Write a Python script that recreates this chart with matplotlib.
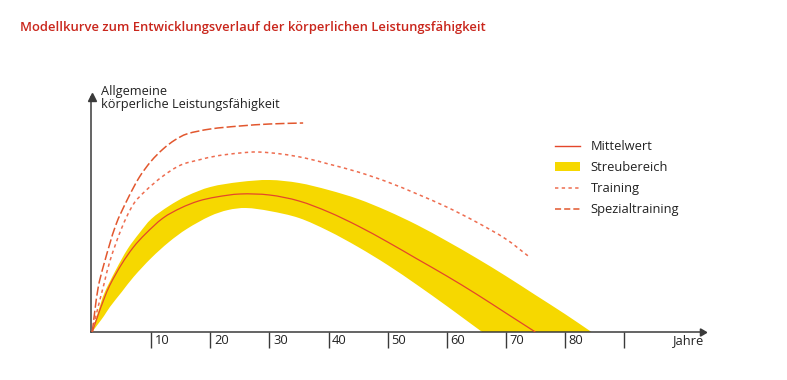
import numpy as np
import matplotlib
matplotlib.use("Agg")
import matplotlib.pyplot as plt
from matplotlib.lines import Line2D
from matplotlib.patches import Patch, PathPatch
from matplotlib.path import Path

plt.rcParams['font.family'] = ['Open Sans', 'DejaVu Sans']

# ---- data (age in years, performance in arbitrary units) ----
mean_age = [0, 1, 2, 3, 5, 7, 9, 12, 15, 18, 21, 25, 30, 35, 40, 45, 50, 55, 60, 65, 70, 75]
mean_val = [0, 17, 33, 47, 68, 85, 98, 114, 124, 131, 135, 138, 137, 131, 120, 106, 90, 73, 56, 38, 19, 0]

upper_age = [0, 1, 2, 4, 6, 8, 10, 13, 16, 20, 25, 30, 35, 40, 45, 50, 55, 60, 65, 70, 75, 80, 84.5]
upper_val = [0, 20, 38, 62, 83, 99, 113, 126, 136, 145, 150, 152, 149, 142, 133, 121, 107, 91, 74, 56, 37, 18, 0]

lower_age = [0, 1, 2, 3, 5, 7, 10, 13, 16, 20, 23, 26, 30, 35, 40, 45, 50, 55, 60, 63, 66]
lower_val = [0, 8, 16, 25, 40, 55, 74, 90, 103, 116, 122, 124, 121, 114, 101, 85, 67, 47, 26, 13, 0]

train_age = [0, 1, 2, 3, 5, 7, 9, 12, 15, 18, 21, 25, 28, 32, 36, 40, 45, 50, 55, 60, 65, 70, 74]
train_val = [0, 25, 48, 71, 104, 128, 141, 156, 167, 172, 176, 179, 180, 178, 174, 168, 160, 150, 138, 125, 110, 93, 75]

spez_age = [0, 1, 2, 4, 6, 8, 10, 12, 14, 16, 20, 25, 30, 35.7]
spez_val = [0, 44, 68, 107, 133, 155, 171, 183, 192, 198, 203, 206, 208, 209]

xticks = [10, 20, 30, 40, 50, 60, 70, 80, 90]
xtick_labels = ['10', '20', '30', '40', '50', '60', '70', '80', '']

title = "Modellkurve zum Entwicklungsverlauf der körperlichen Leistungsfähigkeit"
ylabel = "Allgemeine\nkörperliche Leistungsfähigkeit"
xlabel = "Jahre"
legend_labels = ["Mittelwert", "Streubereich", "Training", "Spezialtraining"]

# ---- styling ----
YELLOW = '#f6d800'
RED = '#e4472a'
TRAIN_C = '#ee6d50'
SPEZ_C = '#e2572e'
AXIS_C = '#3a3a3a'
TEXT_C = '#222222'
TITLE_C = '#c9261c'
SX = 5.91  # x-aspect used only for smooth tangent directions


def smooth_verts(xs, ys):
    """Bezier control polygon passing through the given points (smooth rendering)."""
    P = np.column_stack([np.asarray(xs, float) * SX, np.asarray(ys, float)])
    n = len(P)
    T = np.zeros_like(P)
    for i in range(n):
        a = P[max(i - 1, 0)]
        b = P[min(i + 1, n - 1)]
        d = b - a
        T[i] = d / np.hypot(*d)
    verts = [P[0]]
    for i in range(n - 1):
        L = np.hypot(*(P[i + 1] - P[i])) / 3.0
        verts += [P[i] + T[i] * L, P[i + 1] - T[i + 1] * L, P[i + 1]]
    V = np.array(verts)
    V[:, 0] /= SX
    return V


def curve_path(xs, ys):
    V = smooth_verts(xs, ys)
    codes = [Path.MOVETO] + [Path.CURVE4] * (len(V) - 1)
    return Path(V, codes)


W, H = 787, 380
fig = plt.figure(figsize=(W / 100, H / 100), dpi=100)
fig.patch.set_facecolor('white')

x0, x1, y0, y1 = 91, 702, 332, 97
ax = fig.add_axes([x0 / W, (H - y0) / H, (x1 - x0) / W, (y0 - y1) / H])
ax.set_xlim(-0.2, 103.2)
ax.set_ylim(0, 235)

# band: upper edge forward, lower edge backward
Vu = smooth_verts(upper_age, upper_val)
Vl = smooth_verts(lower_age, lower_val)[::-1]
band_verts = np.vstack([Vu, Vl, Vu[:1]])
band_codes = ([Path.MOVETO] + [Path.CURVE4] * (len(Vu) - 1) + [Path.LINETO]
              + [Path.CURVE4] * (len(Vl) - 1) + [Path.CLOSEPOLY])
ax.add_patch(PathPatch(Path(band_verts, band_codes), facecolor=YELLOW, edgecolor='none', zorder=1))

ax.add_patch(PathPatch(curve_path(mean_age, mean_val), facecolor='none', edgecolor=RED, lw=0.9, zorder=3))
ax.add_patch(PathPatch(curve_path(train_age, train_val), facecolor='none', edgecolor=TRAIN_C, lw=1.1,
                       ls=(0, (2.2, 2.2)), zorder=3))
ax.add_patch(PathPatch(curve_path(spez_age, spez_val), facecolor='none', edgecolor=SPEZ_C, lw=1.1,
                       ls=(0, (6, 2)), zorder=3))

# axes
for s in ['top', 'right']:
    ax.spines[s].set_visible(False)
for s in ['left', 'bottom']:
    ax.spines[s].set_color(AXIS_C)
    ax.spines[s].set_linewidth(1.1)
ax.set_yticks([])
ax.set_xticks(xticks)
ax.set_xticklabels([])
ax.tick_params(axis='x', direction='out', length=11.5, width=1.0, color=AXIS_C)

ax.plot(1, 0, marker=(3, 0, -90), ms=6, color=AXIS_C, transform=ax.get_yaxis_transform(), clip_on=False)
ax.plot(0, 1, marker='^', ms=6, color=AXIS_C, transform=ax.get_xaxis_transform(), clip_on=False)

for t, lab in zip(xticks, xtick_labels):
    ax.text(t + 0.6, -2.5, lab, ha='left', va='top', fontsize=9.3, color=TEXT_C, clip_on=False)
ax.text(103.6, -2.5, xlabel, ha='right', va='top', fontsize=9.3, color=TEXT_C, clip_on=False)

fig.text(101 / W, 1 - 84.5 / H, ylabel, ha='left', va='top', fontsize=9.2, color=TEXT_C, linespacing=1.08)

fig.text(20 / W, 1 - 30.7 / H, title, ha='left', va='baseline', fontsize=9.4,
         fontweight='semibold', color=TITLE_C)

handles = [
    Line2D([0], [0], color=RED, lw=1.0),
    Patch(facecolor=YELLOW, edgecolor='none'),
    Line2D([0], [0], color=TRAIN_C, lw=1.1, ls=(0, (2.2, 2.2))),
    Line2D([0], [0], color=SPEZ_C, lw=1.1, ls=(0, (4, 2))),
]
leg = fig.legend(handles, legend_labels, loc='upper left', bbox_to_anchor=(555 / W, 1 - 140 / H),
                 frameon=False, fontsize=9.3, handlelength=1.9, handleheight=0.6,
                 handletextpad=0.85, labelspacing=0.62, borderaxespad=0, borderpad=0)
for t in leg.get_texts():
    t.set_color(TEXT_C)

fig.savefig('out.png', dpi=100, facecolor='white')
